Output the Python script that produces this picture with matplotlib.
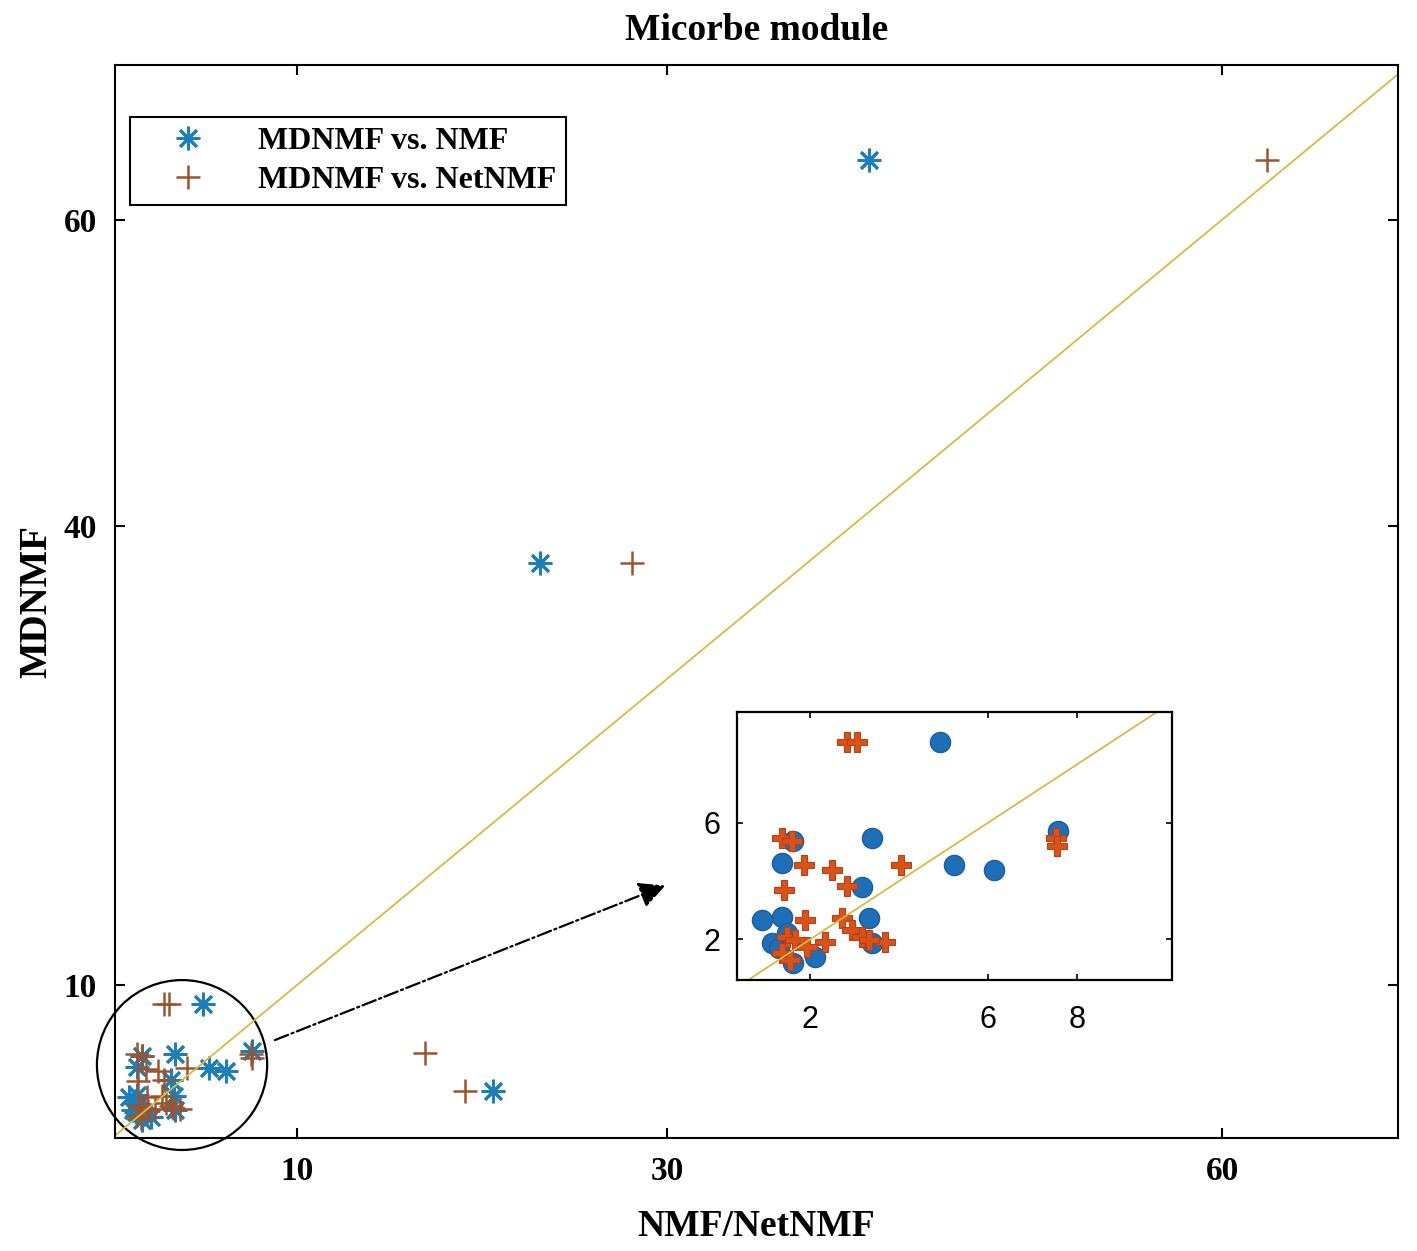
import matplotlib
matplotlib.use("Agg")
from matplotlib import pyplot as plt
from matplotlib.patches import Ellipse

# values
# low-value points (shown in both the main axes and the zoomed inset)
nmfX = [4.93, 3.39, 1.62, 1.36, 5.23, 6.13, 3.16, 7.58, 0.91, 1.36, 3.33, 1.14, 2.11, 3.39, 1.62, 1.29, 1.47]
nmfY = [8.76, 5.48, 5.37, 4.62, 4.56, 4.37, 3.79, 5.71, 2.67, 2.78, 2.72, 1.86, 1.40, 1.86, 1.17, 1.69, 2.21]
netX = [2.83, 3.05, 1.36, 1.59, 7.52, 7.55, 1.85, 2.49, 4.03, 1.40, 2.83, 1.89, 2.71, 2.94, 3.16, 3.69, 2.34,
        1.47, 1.66, 1.36, 1.55, 1.93, 3.31]
netY = [8.76, 8.76, 5.48, 5.37, 5.48, 5.20, 4.54, 4.39, 4.56, 3.70, 3.82, 2.67, 2.72, 2.32, 2.09, 1.92, 1.92,
        2.09, 1.98, 1.52, 1.29, 1.75, 1.98]
# points outside the zoomed region
nmfFarX = [40.9, 23.1, 20.6]
nmfFarY = [63.9, 37.6, 3.07]
netFarX = [62.4, 28.1, 16.9, 19.1]
netFarY = [63.9, 37.6, 5.56, 3.07]

mainXTicks = [10, 30, 60]
mainYTicks = [10, 40, 60]
insetXTicks = [2, 6, 8]
insetYTicks = [2, 6]

blue = '#1a7fba'
brown = '#9a5530'
orange = '#d95319'
yellow = '#d9b843'
serif = 'Liberation Serif'

fig = plt.figure(figsize=(14.17, 12.51), dpi=100)
ax = fig.add_axes([0.0812, 0.0903, 0.9054, 0.8577])

ax.plot(nmfX + nmfFarX, nmfY + nmfFarY, linestyle='none', marker=(8, 2, 0), markersize=17,
        markeredgewidth=2.0, color=blue, label='MDNMF vs. NMF')
ax.plot(netX + netFarX, netY + netFarY, linestyle='none', marker='+', markersize=17,
        markeredgewidth=1.8, color=brown, label='MDNMF vs. NetNMF')
ax.plot([0, 70], [0, 70], color=yellow, linewidth=1.3)

ax.set_xlim(0.16, 69.5)
ax.set_ylim(0, 70.1)
ax.set_xticks(mainXTicks)
ax.set_yticks(mainYTicks)
ax.tick_params(direction='in', top=True, right=True, length=7, width=1.5, pad=13, labelsize=24)
for lab in ax.get_xticklabels() + ax.get_yticklabels():
    lab.set_fontfamily(serif)
    lab.set_fontweight('bold')
for s in ax.spines.values():
    s.set_linewidth(1.5)

ax.set_title('Micorbe module', fontsize=27, fontweight='bold', fontfamily=serif, pad=18)
ax.set_xlabel('NMF/NetNMF', fontsize=27, fontweight='bold', fontfamily=serif, labelpad=16)
ax.set_ylabel('MDNMF', fontsize=28, fontweight='bold', fontfamily=serif, labelpad=6)

leg = ax.legend(loc='upper left', bbox_to_anchor=(0.0117, 0.9515), borderaxespad=0,
                prop={'family': serif, 'weight': 'bold', 'size': 23}, fancybox=False,
                edgecolor='black', framealpha=1, handlelength=3.0, handletextpad=0.7,
                borderpad=0.3, labelspacing=0.3)
leg.get_frame().set_linewidth(1.5)

# circle around the zoomed region and the arrow to the inset
ax.add_patch(Ellipse((3.78, 4.77), 9.2, 11.1, fill=False, edgecolor='black', linewidth=1.6, clip_on=False))
ax.annotate('', xy=(29.9, 16.5), xytext=(8.8, 6.4),
            arrowprops=dict(arrowstyle='-|>,head_length=1.6,head_width=0.8', linestyle='-.',
                            color='black', linewidth=1.6, shrinkA=0, shrinkB=0))

# inset
ins = fig.add_axes([0.5201, 0.2166, 0.307, 0.2142])
ins.plot(nmfX, nmfY, linestyle='none', marker='o', markersize=14.5, color='#1f6fb8',
         markeredgecolor='#1a5f9e', markeredgewidth=1)
ins.plot(netX, netY, linestyle='none', marker='P', markersize=15, color=orange,
         markeredgecolor='#b5401a', markeredgewidth=0.8)
ins.plot([0, 11], [0, 11], color=yellow, linewidth=1.3)
ins.set_xlim(0.35, 10.14)
ins.set_ylim(0.6, 9.8)
ins.set_xticks(insetXTicks)
ins.set_yticks(insetYTicks)
ins.tick_params(direction='in', top=True, right=True, length=4, width=1.2, pad=18, labelsize=22)
ins.tick_params(axis='y', pad=12)
for lab in ins.get_xticklabels() + ins.get_yticklabels():
    lab.set_fontfamily('Liberation Sans')
for s in ins.spines.values():
    s.set_linewidth(1.6)

fig.savefig('out.png', dpi=100)
